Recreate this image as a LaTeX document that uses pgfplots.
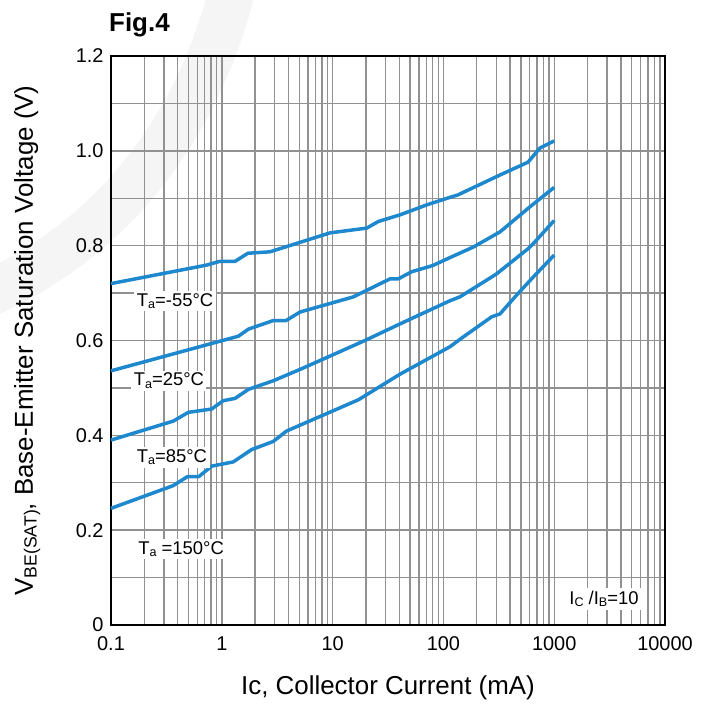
\documentclass[border=0pt]{standalone}
\usepackage{fontspec}
\setmainfont{Liberation Sans}
\usepackage{graphicx}
\usepackage{pgfplots}
\pgfplotsset{compat=1.18}
\definecolor{curve}{RGB}{30,136,206}
\definecolor{gridc}{RGB}{145,145,145}
\newcommand\sub[1]{\raisebox{-0.28ex}{\scalebox{0.68}{#1}}}
\begin{document}
\begin{tikzpicture}[x=1bp,y=1bp]
\useasboundingbox (-111,-79) rectangle (594,625);
\draw[black!4, line width=46bp] (125,650) .. controls (95,520) and (20,395) .. (-125,330);
\begin{axis}[
  at={(0,0)}, anchor=south west,
  scale only axis, width=554bp, height=569bp,
  xmode=log, log basis x=10,
  xmin=0.1, xmax=10000, ymin=0, ymax=1.2,
  xtick={0.1,1,10,100,1000,10000},
  xticklabels={0.1,1,10,100,1000,10000},
  minor xtick={0.2,0.3,0.4,0.5,0.6,0.7,0.8,0.9,2,3,4,5,6,7,8,9,20,30,40,50,60,70,80,90,200,300,400,500,600,700,800,900,2000,3000,4000,5000,6000,7000,8000,9000},
  ytick={0,0.2,0.4,0.6,0.8,1.0,1.2},
  yticklabels={0,0.2,0.4,0.6,0.8,1.0,1.2},
  minor ytick={0.1,0.3,0.5,0.7,0.9,1.1},
  xmajorgrids, xminorgrids, ymajorgrids, yminorgrids,
  major grid style={gridc, line width=1.4bp},
  minor grid style={gridc, line width=1.4bp},
  major tick length=0pt, minor tick length=0pt,
  axis line style={black, line width=1.9bp},
  /pgf/number format/assume math mode=true,
  ticklabel style={font=\fontsize{20}{24}\selectfont},
  xticklabel style={yshift=-8bp},
  yticklabel style={xshift=-4bp},
  xlabel={Ic, Collector Current (mA)},
  ylabel={V\sub{BE(SAT)}, Base-Emitter Saturation Voltage (V)},
  xlabel style={font=\fontsize{26}{30}\selectfont, at={(axis description cs:0.5,-0.123)}, anchor=base},
  ylabel style={font=\fontsize{26}{30}\selectfont, at={(axis description cs:-0.141,0.5)}, anchor=base, rotate=0},
  clip=false,
]
\addplot[curve, line width=3.5bp, line join=round] table {
0.1 0.720
0.73 0.759
0.96 0.767
1.32 0.767
1.72 0.784
2.72 0.787
9.5 0.827
20.3 0.837
25.9 0.851
40.6 0.865
53 0.875
70.7 0.886
115 0.902
135 0.907
324 0.949
580 0.976
745 1.006
1000 1.021
};
\addplot[curve, line width=3.5bp, line join=round] table {
0.1 0.536
1.41 0.609
1.74 0.624
2.91 0.642
3.8 0.642
5.08 0.660
15.4 0.692
33 0.730
39.2 0.730
51.7 0.745
80 0.758
115 0.775
186 0.797
324 0.829
605 0.882
1000 0.923
};
\addplot[curve, line width=3.5bp, line join=round] table {
0.1 0.390
0.365 0.430
0.499 0.4485
0.636 0.452
0.81 0.4555
1.03 0.473
1.32 0.478
1.74 0.497
2.91 0.515
5.08 0.539
19.6 0.600
40.6 0.635
115 0.684
141 0.692
300 0.740
584 0.794
640 0.803
1000 0.853
};
\addplot[curve, line width=3.5bp, line join=round] table {
0.1 0.246
0.365 0.294
0.49 0.313
0.62 0.313
0.81 0.335
1.27 0.344
1.86 0.370
2.91 0.387
3.84 0.409
17.1 0.475
40.6 0.529
115 0.587
146 0.605
273 0.650
324 0.656
459 0.696
648 0.734
1000 0.780
};
\begin{scope}[every node/.style={fill=white, inner sep=2.5bp, font=\fontsize{18.5}{22}\selectfont}]
\node at (axis cs:0.379,0.683) {T\sub{a}=-55°C};
\node at (axis cs:0.333,0.5146) {T\sub{a}=25°C};
\node at (axis cs:0.355,0.354) {T\sub{a}=85°C};
\node at (axis cs:0.429,0.160) {T\sub{a} =150°C};
\node at (axis cs:2814,0.055) {I\sub{C} /I\sub{B}=10};
\end{scope}
\end{axis}
\node[font=\bfseries\fontsize{26}{30}\selectfont, anchor=base west, inner sep=0pt] at (-2,593) {Fig.4};
\end{tikzpicture}
\end{document}
